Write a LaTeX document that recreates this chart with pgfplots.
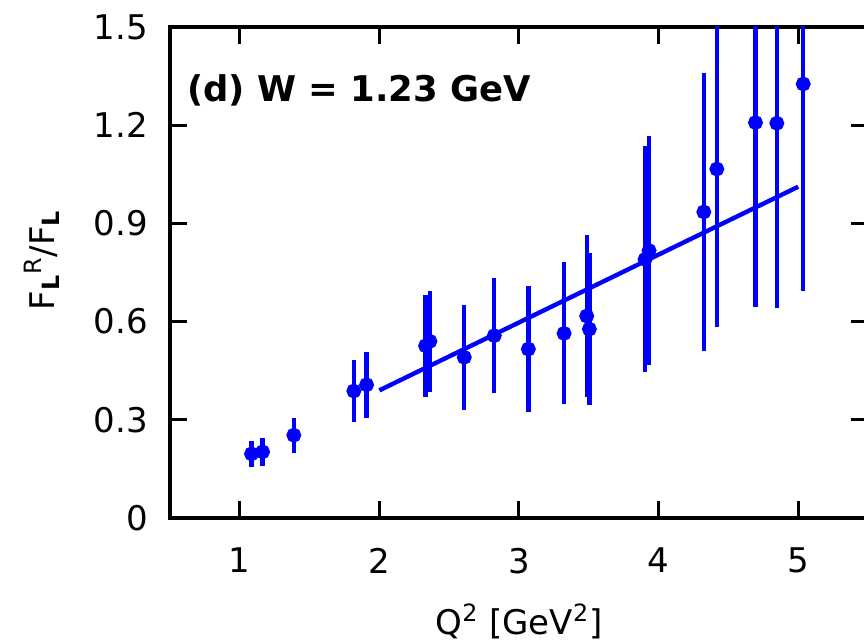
\documentclass[border=0pt]{standalone}
\usepackage{fontspec}
\setmainfont{DejaVu Sans}
\usepackage{pgfplots}
\pgfplotsset{compat=1.18}
\definecolor{pblue}{RGB}{0,0,255}
\pgfplotstableread{
x y e
1.084 0.196 0.040
1.163 0.202 0.042
1.387 0.253 0.054
1.817 0.388 0.096
1.908 0.407 0.100
2.331 0.526 0.155
2.362 0.540 0.155
2.608 0.491 0.161
2.823 0.557 0.176
3.067 0.516 0.193
3.323 0.564 0.217
3.485 0.617 0.247
3.504 0.577 0.233
3.903 0.790 0.345
3.932 0.817 0.350
4.324 0.935 0.424
4.417 1.066 0.483
4.694 1.208 0.562
4.847 1.206 0.563
5.036 1.326 0.632
}\datatable
\begin{document}
\begin{tikzpicture}
\begin{axis}[
  scale only axis,
  width=349pt, height=245.5pt,
  xmin=0.5, xmax=5.5, ymin=0, ymax=1.5,
  xtick={1,2,3,4,5},
  ytick={0,0.3,0.6,0.9,1.2,1.5},
  yticklabels={0,0.3,0.6,0.9,1.2,1.5},
  xticklabels={1,2,3,4,5},
  tick align=inside,
  xtick pos=both, ytick pos=both,
  major tick length=8.5pt,
  axis line style={line width=1.6pt},
  every tick/.style={black, line width=1.5pt},
  minor tick num=0,
  font=\fontsize{17}{20}\selectfont,
  /pgf/number format/assume math mode=true,
  yticklabel style={xshift=-7.5pt},
  xticklabel style={yshift=-11.5pt},
  xlabel={Q\textsuperscript{2} [GeV\textsuperscript{2}]},
  xlabel style={at={(axis description cs:0.5,-0.237)}, anchor=base},
  ylabel={F\textsubscript{\textbf{L}}\textsuperscript{R}/F\textsubscript{\textbf{L}}},
  ylabel style={at={(axis description cs:-0.1834,0.525)}, anchor=center},
]
\addplot[pblue, line width=2pt, mark=*, mark size=2.7pt, only marks,
  error bars/.cd, y dir=both, y explicit, error mark=none,
  error bar style={line width=2.2pt, pblue}]
  table[x=x, y=y, y error=e] {\datatable};
\addplot[pblue, line width=2.2pt, no marks] coordinates {(2,0.390) (5,1.012)};
\node[anchor=base west, inner sep=0pt, font=\fontsize{17.7}{21}\selectfont\bfseries] at (axis cs:0.62,1.271) {(d) W = 1.23 GeV};
\end{axis}
\pgfresetboundingbox
\path[use as bounding box] ([xshift=-85pt,yshift=-62pt]current axis.south west) rectangle ([xshift=-2pt,yshift=13.5pt]current axis.north east);
\end{tikzpicture}
\end{document}
